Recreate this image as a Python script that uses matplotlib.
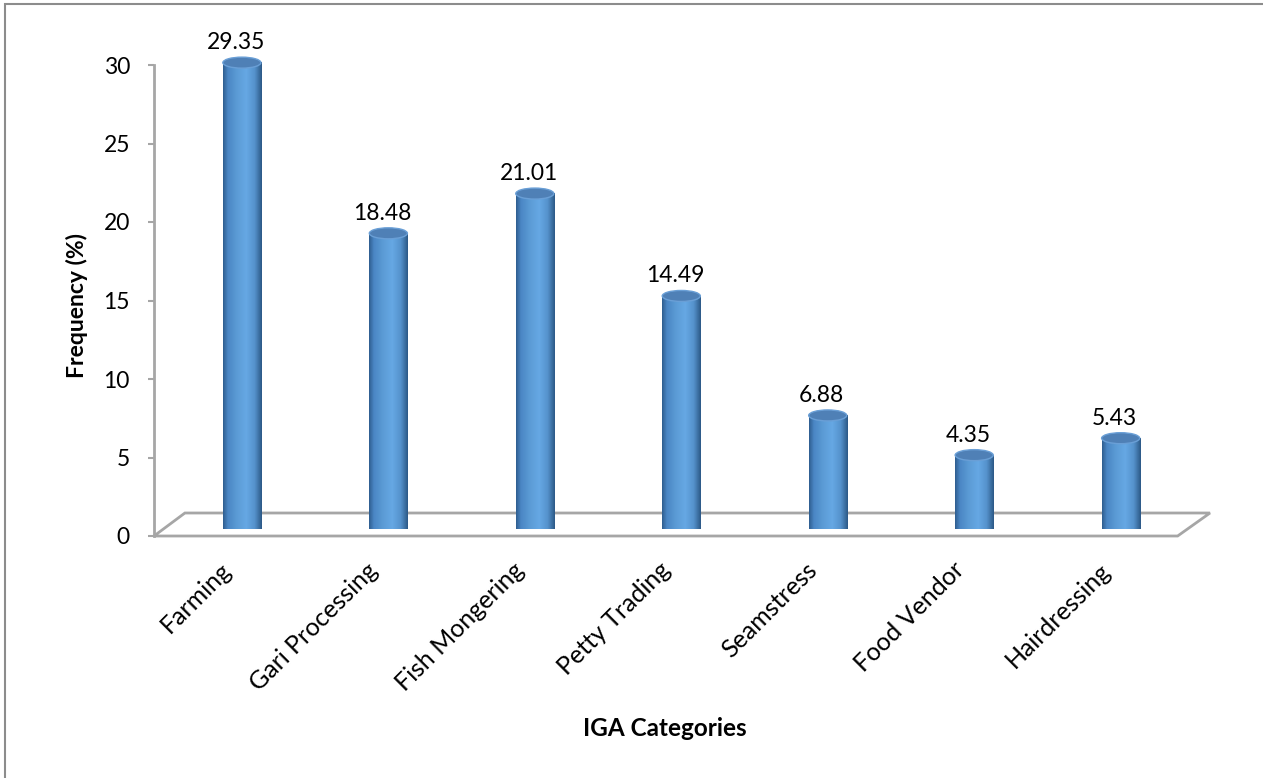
import numpy as np
import matplotlib
matplotlib.use('Agg')
import matplotlib.pyplot as plt
import matplotlib.transforms as mtransforms
from matplotlib.patches import Ellipse, Polygon, Rectangle
from matplotlib.colors import to_rgb

# 데이터
categories = ['Farming', 'Gari Processing', 'Fish Mongering', 'Petty Trading',
              'Seamstress', 'Food Vendor', 'Hairdressing']
values = [29.35, 18.48, 21.01, 14.49, 6.88, 4.35, 5.43]
y_ticks = [0, 5, 10, 15, 20, 25, 30]

plt.rcParams['font.family'] = ['Lato', 'DejaVu Sans']

W, H = 1263, 778
fig = plt.figure(figsize=(W / 100, H / 100), dpi=100)

# 축 위치 (픽셀 기준)
left_px, right_px, zero_px = 154, 1210, 536
px_per_unit = 15.7
ymax = 32
ax = fig.add_axes([left_px / W, (H - zero_px) / H,
                   (right_px - left_px) / W, ymax * px_per_unit / H])
xmin, xmax = -0.60, 6.61
ax.set_xlim(xmin, xmax)
ax.set_ylim(0, ymax)

gray = '#a6a6a6'
base = 0.8          # 바닥 깊이 중간
depth = 1.465      # 바닥 뒤쪽 높이
floor_right = 6.389
floor = Polygon([(xmin, 0), (floor_right, 0), (xmax, depth), (xmin + 0.211, depth)],
                closed=True, facecolor='white', edgecolor=gray, lw=2, zorder=1,
                clip_on=False)
ax.add_patch(floor)

# 원통 그라데이션
stops = [(0.0, '#2f5f91'), (0.12, '#4a86c4'), (0.35, '#5b9bd5'),
         (0.6, '#66a8e4'), (0.82, '#5592cc'), (1.0, '#2d5a88')]
pos = np.linspace(0, 1, 64)
cols = np.array([to_rgb(c) for _, c in stops])
sp = [s for s, _ in stops]
grad = np.stack([np.interp(pos, sp, cols[:, k]) for k in range(3)], axis=-1)[None, :, :]

bw = 0.26
eh = 0.70
x = np.arange(len(categories))
bars = ax.bar(x, values, width=bw, bottom=base, color='none', edgecolor='none', zorder=2)
for xi, v, b in zip(x, values, bars):
    top = base + v
    img = ax.imshow(grad, extent=[xi - bw / 2, xi + bw / 2, base - eh / 2, top],
                    aspect='auto', interpolation='bilinear', zorder=2, clip_on=False)
    img.set_clip_path(b)
    bot = Ellipse((xi, base), bw, eh, facecolor='none', edgecolor='none', zorder=2)
    ax.add_patch(bot)
    img2 = ax.imshow(grad, extent=[xi - bw / 2, xi + bw / 2, base - eh / 2, base + eh / 2],
                     aspect='auto', interpolation='bilinear', zorder=2, clip_on=False)
    img2.set_clip_path(bot)
    cap = Ellipse((xi, top), bw, eh, facecolor='#4f80b6', edgecolor='#6a9fd6',
                  lw=1, zorder=3, clip_on=False)
    ax.add_patch(cap)
    ax.annotate(f'{v:.2f}', (xi, top), xytext=(-4.3, 9.7), textcoords='offset points',
                ha='center', va='baseline', fontsize=16.5, color='black', clip_on=False)

ax.set_xlim(xmin, xmax)
ax.set_ylim(0, ymax)

# 축 스타일
for s in ['top', 'right', 'bottom']:
    ax.spines[s].set_visible(False)
ax.spines['left'].set_color(gray)
ax.spines['left'].set_linewidth(2)
ax.spines['left'].set_bounds(0, 30)
ax.set_yticks(y_ticks)
ax.tick_params(axis='y', direction='out', length=4.3, width=1.5, color=gray,
               labelsize=16.5, pad=13)
ax.set_xticks(x)
ax.set_xticklabels(categories, rotation=45, ha='right', fontsize=18)
ax.tick_params(axis='x', length=0, pad=16)
shift = mtransforms.ScaledTranslation(-6 / 100, 0, fig.dpi_scale_trans)
for lbl in ax.get_xticklabels():
    lbl.set_transform(lbl.get_transform() + shift)

fig.text(77 / W, 1 - 306 / H, 'Frequency (%)', rotation=90, ha='center', va='center',
         fontsize=16.5, fontweight='bold')
fig.text(665 / W, 1 - 728 / H, 'IGA Categories', ha='center', va='center',
         fontsize=17.5, fontweight='bold')

# 외곽 테두리
fig.add_artist(Rectangle((5 / W, -0.1), 1.2, 1 - 4 / H + 0.1, transform=fig.transFigure,
                         fill=False, edgecolor='#8c8c8c', lw=1.5))

fig.savefig('out.png', dpi=100)
